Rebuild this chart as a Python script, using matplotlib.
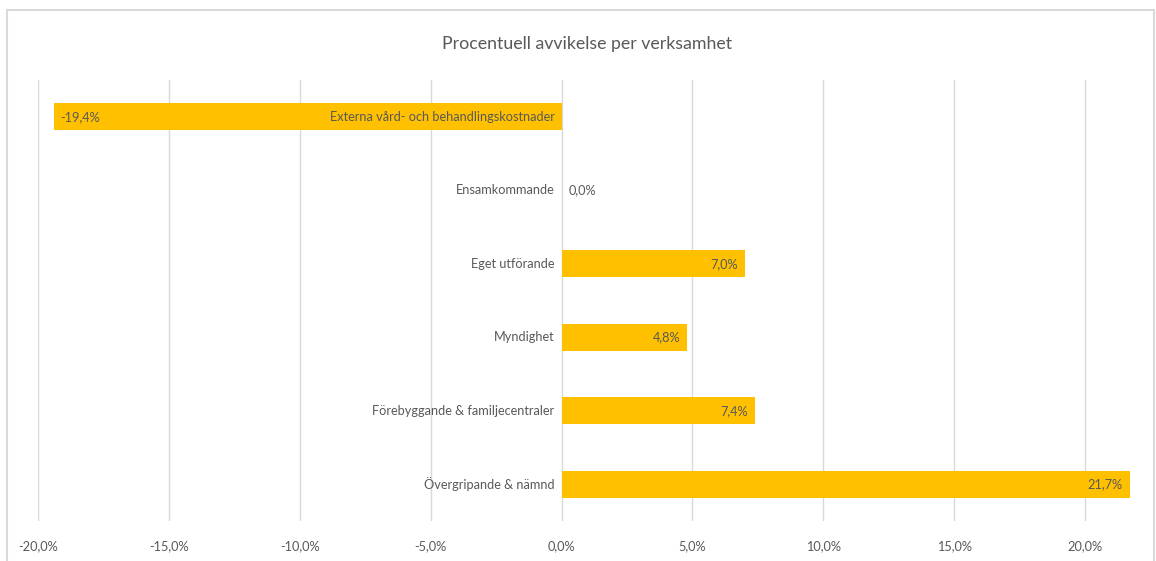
import matplotlib
matplotlib.use("Agg")
import matplotlib.pyplot as plt
from matplotlib.patches import Rectangle

# Data
categories = [
    "Externa vård- och behandlingskostnader",
    "Ensamkommande",
    "Eget utförande",
    "Myndighet",
    "Förebyggande & familjecentraler",
    "Övergripande & nämnd",
]
values = [-19.4, 0.0, 7.0, 4.8, 7.4, 21.7]
ticks = [-20, -15, -10, -5, 0, 5, 10, 15, 20]

plt.rcParams["font.family"] = ["Lato", "DejaVu Sans"]
text_color = "#595959"
bar_color = "#FFC000"
grid_color = "#D9D9D9"
fs = 9.2

fig = plt.figure(figsize=(11.56, 5.61), dpi=100)
ax = fig.add_axes([38 / 1156, 40 / 561, (1150 - 38) / 1156, 441 / 561])

y = list(range(len(categories)))
ax.barh(y, values, height=0.37, color=bar_color, zorder=2)

ax.set_xlim(-20, 20 + (1150 - 1085) / 26.18)
ax.set_ylim(len(categories) - 0.5, -0.5)
ax.set_xticks(ticks)
ax.set_xticklabels([f"{t:.1f}%".replace(".", ",") for t in ticks],
                   color=text_color, fontsize=fs)
ax.tick_params(axis="x", length=0, pad=14)
ax.set_yticks([])
ax.grid(axis="x", color=grid_color, linewidth=1, zorder=0)
for s in ax.spines.values():
    s.set_visible(False)

for yi, (cat, v) in enumerate(zip(categories, values)):
    # category label just left of zero
    ax.annotate(cat, (0, yi), xytext=(-5, 0), textcoords="offset points",
                ha="right", va="center", color=text_color, fontsize=fs, zorder=3)
    label = f"{v:.1f}%".replace(".", ",")
    if v > 0:
        ax.annotate(label, (v, yi), xytext=(-5, 0), textcoords="offset points",
                    ha="right", va="center", color=text_color, fontsize=fs, zorder=3)
    elif v < 0:
        ax.annotate(label, (v, yi), xytext=(5, 0), textcoords="offset points",
                    ha="left", va="center", color=text_color, fontsize=fs, zorder=3)
    else:
        ax.annotate(label, (0, yi), xytext=(5, 0), textcoords="offset points",
                    ha="left", va="center", color=text_color, fontsize=fs, zorder=3)

fig.text(587 / 1156, 1 - 44 / 561, "Procentuell avvikelse per verksamhet",
         ha="center", va="center", color=text_color, fontsize=12.8)

# chart area border
fig.patches.append(Rectangle((7 / 1156, -0.05), (1154 - 7) / 1156, 1.05 - 10 / 561,
                             transform=fig.transFigure, fill=False,
                             edgecolor=grid_color, linewidth=1.5))

fig.savefig("out.png", dpi=100)
